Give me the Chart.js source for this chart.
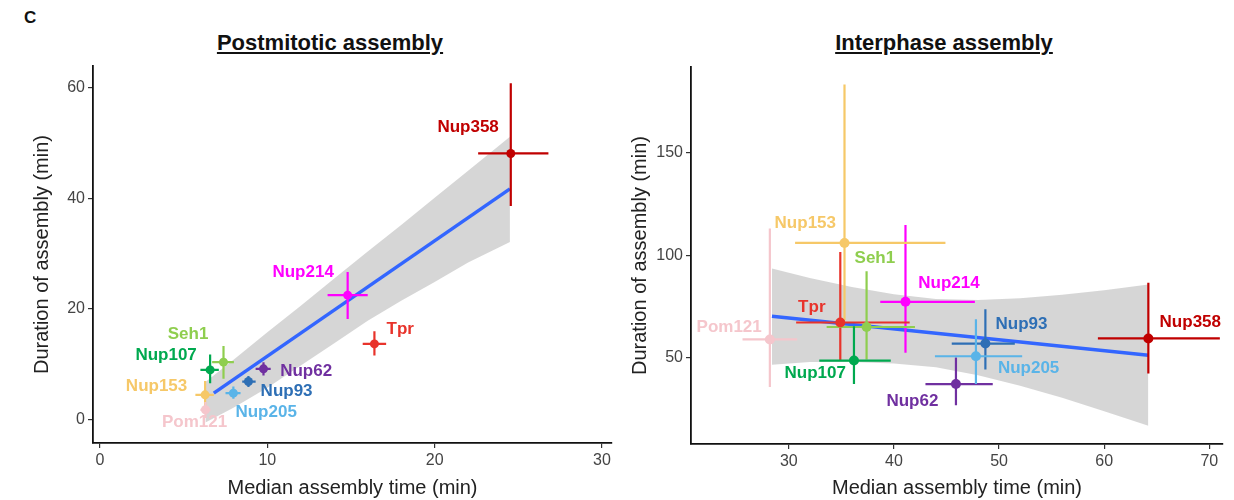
<!DOCTYPE html>
<html>
<head>
<meta charset="utf-8">
<script src="https://cdn.jsdelivr.net/npm/chart.js@4.4.1/dist/chart.umd.min.js"></script>
<style>
  body { margin: 0; background: #fff; width: 1234px; height: 500px; position: relative; overflow: hidden;
         font-family: "Liberation Sans", Arial, sans-serif; }
  canvas { position: absolute; top: 0; }
  .title { position: absolute; top: 30px; font-weight: bold; font-size: 22px; text-decoration: underline;
           transform: translateX(-50%); white-space: nowrap; color: #111; }
  .panel { position: absolute; left: 24px; top: 8px; font-weight: bold; font-size: 17px; color: #111; }
</style>
</head>
<body>
<div class="panel">C</div>
<div class="title" style="left:330px">Postmitotic assembly</div>
<div class="title" style="left:944px">Interphase assembly</div>
<canvas id="left" width="617" height="500" style="left:0"></canvas>
<canvas id="right" width="617" height="500" style="left:617px"></canvas>
<script>
// nucleoporins, same order in both panels
const proteins = ['Nup358', 'Nup214', 'Tpr', 'Seh1', 'Nup107', 'Nup62', 'Nup93', 'Nup205', 'Nup153', 'Pom121'];
const colors = ['#c00000', '#ff00ff', '#e8332b', '#8fce4f', '#00a94f', '#7030a0', '#2e6fb5', '#5ab4e8', '#f6c868', '#f5c6cc'];

// postmitotic assembly (min)
const postX = [24.55, 14.8, 16.4, 7.38, 6.58, 9.77, 8.87, 7.97, 6.28, 6.3];
const postY = [48.1, 22.5, 13.7, 10.4, 9.0, 9.2, 6.9, 4.8, 4.5, 1.8];
const postXLow = [22.6, 13.6, 15.7, 6.7, 6.0, 9.3, 8.5, 7.5, 5.7, 6.0];
const postXHigh = [26.8, 16.0, 17.1, 8.0, 7.1, 10.2, 9.3, 8.4, 6.8, 6.6];
const postYLow = [38.6, 18.2, 11.6, 7.4, 6.6, 8.0, 5.9, 3.8, 2.2, 0.3];
const postYHigh = [60.8, 26.7, 16.0, 13.3, 11.8, 10.4, 7.9, 6.0, 7.0, 3.2];
const postFitX = [6.8, 24.5];
const postFitY = [4.8, 41.7];
const postBandX = [6.3, 8, 10, 12, 14, 16, 18, 20, 22, 24.5];
const postBandHigh = [6.8, 10.9, 15.8, 20.6, 25.5, 30.4, 35.2, 40.1, 45.0, 51.1];
const postBandLow = [-0.5, 2.2, 5.8, 9.8, 13.8, 17.9, 21.5, 24.9, 28.4, 32.1];
const postLabelX = [22.0, 12.14, 17.94, 5.26, 3.95, 12.32, 11.15, 9.93, 3.38, 5.65];
const postLabelY = [52.8, 26.6, 16.3, 15.4, 11.6, 8.7, 5.1, 1.4, 6.0, -0.4];
const postXTicks = [0, 10, 20, 30];
const postYTicks = [0, 20, 40, 60];

// interphase assembly (min)
const intX = [64.2, 41.1, 34.9, 37.4, 36.2, 45.9, 48.7, 47.8, 35.3, 28.2];
const intY = [59.3, 77.2, 67.1, 64.9, 48.5, 37.0, 56.8, 50.6, 106.0, 58.8];
const intXLow = [59.4, 38.7, 30.7, 33.6, 32.9, 43.0, 45.5, 43.9, 30.6, 25.6];
const intXHigh = [71.0, 47.7, 41.5, 42.0, 39.7, 49.4, 51.5, 52.2, 44.9, 30.8];
const intYLow = [42.2, 52.3, 48.7, 49.0, 37.0, 26.7, 44.1, 37.0, 68.2, 35.6];
const intYHigh = [86.5, 114.7, 101.6, 92.1, 65.3, 50.0, 73.6, 68.7, 183.4, 113.1];
const intFitX = [28.4, 64.2];
const intFitY = [70.2, 51.1];
const intBandX = [28.4, 32, 36, 40, 44, 48, 52, 56, 60, 64.2];
const intBandHigh = [93.5, 88.8, 84.4, 80.9, 78.6, 78.1, 79.0, 80.7, 82.9, 85.7];
const intBandLow = [46.5, 47.8, 47.8, 47.1, 45.2, 41.3, 36.2, 30.3, 23.7, 16.6];
const intLabelX = [68.19, 45.24, 32.19, 38.19, 32.52, 41.76, 52.14, 52.81, 31.57, 24.33];
const intLabelY = [67.3, 86.3, 74.6, 98.5, 42.3, 28.6, 66.3, 44.8, 115.6, 64.8];
const intXTicks = [30, 40, 50, 60, 70];
const intYTicks = [50, 100, 150];

const FONT = '"Liberation Sans", Arial, sans-serif';
const pts = (xs, ys) => xs.map((x, i) => ({ x: x, y: ys[i] }));

// error bars go under the points but over the band and fit line
const errorBars = {
  id: 'errorBars',
  beforeDatasetDraw(chart, args) {
    if (args.index !== 3) return;
    const e = chart.options.plugins.errorBars;
    const xs = chart.scales.x, ys = chart.scales.y, ctx = chart.ctx;
    ctx.save();
    ctx.lineWidth = e.width;
    e.x.forEach((x, i) => {
      ctx.strokeStyle = colors[i];
      const px = xs.getPixelForValue(x), py = ys.getPixelForValue(e.y[i]);
      ctx.beginPath();
      ctx.moveTo(xs.getPixelForValue(e.xLow[i]), py);
      ctx.lineTo(xs.getPixelForValue(e.xHigh[i]), py);
      ctx.moveTo(px, ys.getPixelForValue(e.yLow[i]));
      ctx.lineTo(px, ys.getPixelForValue(e.yHigh[i]));
      ctx.stroke();
    });
    ctx.restore();
  }
};

const pointLabels = {
  id: 'pointLabels',
  afterDatasetsDraw(chart) {
    const l = chart.options.plugins.pointLabels;
    const ctx = chart.ctx;
    ctx.save();
    ctx.font = 'bold 17px ' + FONT;
    ctx.textAlign = 'center';
    ctx.textBaseline = 'middle';
    proteins.forEach((name, i) => {
      ctx.fillStyle = colors[i];
      ctx.fillText(name, chart.scales.x.getPixelForValue(l.x[i]), chart.scales.y.getPixelForValue(l.y[i]));
    });
    ctx.restore();
  }
};

function makeChart(id, cfg) {
  const axis = (ticks, min, max, extra) => Object.assign({
    type: 'linear', min: min, max: max,
    afterBuildTicks: s => { s.ticks = ticks.map(v => ({ value: v })); },
    grid: { drawOnChartArea: false, drawTicks: true, tickLength: 5, color: '#333', lineWidth: 1.2 },
    border: { display: true, color: '#111', width: 1.8 },
    ticks: { color: '#444', font: { family: FONT, size: 16 }, padding: 3 },
  }, extra);

  return new Chart(document.getElementById(id), {
    type: 'scatter',
    data: {
      datasets: [
        { type: 'line', data: pts(cfg.bandX, cfg.bandHigh), fill: '+1', backgroundColor: 'rgba(165,165,165,0.45)',
          borderWidth: 0, pointRadius: 0, order: 3 },
        { type: 'line', data: pts(cfg.bandX, cfg.bandLow), fill: false, borderWidth: 0, pointRadius: 0, order: 3 },
        { type: 'line', data: pts(cfg.fitX, cfg.fitY), borderColor: '#3366ff', borderWidth: 3.5, pointRadius: 0,
          fill: false, order: 2 },
        { data: pts(cfg.x, cfg.y), pointBackgroundColor: colors, pointBorderWidth: 0, pointRadius: cfg.radius, order: 0 }
      ]
    },
    options: {
      responsive: false,
      animation: false,
      layout: { padding: cfg.padding },
      plugins: {
        legend: { display: false },
        tooltip: { enabled: false },
        errorBars: { x: cfg.x, y: cfg.y, xLow: cfg.xLow, xHigh: cfg.xHigh, yLow: cfg.yLow, yHigh: cfg.yHigh, width: 2.2 },
        pointLabels: { x: cfg.labelX, y: cfg.labelY }
      },
      scales: {
        x: axis(cfg.xTicks, cfg.xMin, cfg.xMax, {
          afterFit: s => { s.height = cfg.xH; s.paddingLeft = 0; s.paddingRight = 0; },
          title: { display: true, text: 'Median assembly time (min)', color: '#222',
                   font: { family: FONT, size: 20 }, padding: { top: 0, bottom: 0 } }
        }),
        y: axis(cfg.yTicks, cfg.yMin, cfg.yMax, {
          afterFit: s => { s.width = cfg.yW; s.paddingTop = 0; s.paddingBottom = 0; },
          title: { display: true, text: 'Duration of assembly (min)', color: '#222',
                   font: { family: FONT, size: 20 }, padding: { top: cfg.yTitlePad, bottom: 0 } }
        })
      }
    },
    plugins: [errorBars, pointLabels]
  });
}

makeChart('left', {
  x: postX, y: postY, xLow: postXLow, xHigh: postXHigh, yLow: postYLow, yHigh: postYHigh,
  fitX: postFitX, fitY: postFitY, bandX: postBandX, bandHigh: postBandHigh, bandLow: postBandLow,
  labelX: postLabelX, labelY: postLabelY, xTicks: postXTicks, yTicks: postYTicks,
  xMin: -0.42, xMax: 30.6, yMin: -4.2, yMax: 63.9, radius: 4.5,
  padding: { left: 0, top: 66, right: 5, bottom: 0 }, xH: 57, yW: 93, yTitlePad: 30
});

makeChart('right', {
  x: intX, y: intY, xLow: intXLow, xHigh: intXHigh, yLow: intYLow, yHigh: intYHigh,
  fitX: intFitX, fitY: intFitY, bandX: intBandX, bandHigh: intBandHigh, bandLow: intBandLow,
  labelX: intLabelX, labelY: intLabelY, xTicks: intXTicks, yTicks: intYTicks,
  xMin: 20.7, xMax: 71.3, yMin: 7.7, yMax: 192, radius: 5,
  padding: { left: 0, top: 67, right: 11, bottom: 0 }, xH: 56, yW: 74, yTitlePad: 11
});
</script>
</body>
</html>
